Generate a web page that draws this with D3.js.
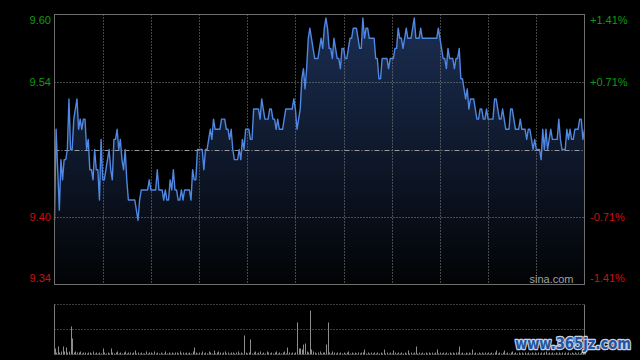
<!DOCTYPE html>
<html><head><meta charset="utf-8">
<script src="https://cdn.jsdelivr.net/npm/d3@7/dist/d3.min.js"></script>
<style>html,body{margin:0;padding:0;background:#000;}svg{display:block;}</style>
</head><body>
<svg id="c" width="640" height="360"></svg>
<script>
// ---- data ----
const prevClose = 9.47;
const maxPct = 0.0141;
const leftTickLabels = ["9.60", "9.54", "9.40", "9.34"];
const rightTickLabels = ["+1.41%", "+0.71%", "-0.71%", "-1.41%"];
const tickFractions = [1, 0.5, -0.5, -1];
const totalMinutes = 330;
const gridStepMinutes = 30;
const prices = [
9.40,9.49,9.45,9.41,9.46,9.44,9.46,9.46,9.47,9.52,
9.47,9.47,9.50,9.51,9.52,9.49,9.50,9.49,9.50,9.50,
9.47,9.48,9.45,9.45,9.44,9.47,9.45,9.45,9.42,9.48,
9.44,9.44,9.45,9.46,9.47,9.45,9.44,9.48,9.48,9.49,
9.47,9.48,9.46,9.45,9.47,9.44,9.42,9.42,9.42,9.42,
9.42,9.41,9.40,9.42,9.43,9.43,9.43,9.43,9.43,9.44,
9.43,9.43,9.43,9.43,9.45,9.43,9.43,9.43,9.42,9.43,
9.42,9.42,9.44,9.43,9.45,9.43,9.43,9.42,9.42,9.43,
9.42,9.43,9.43,9.43,9.43,9.42,9.45,9.44,9.44,9.47,
9.47,9.47,9.47,9.45,9.47,9.47,9.48,9.49,9.48,9.50,
9.49,9.49,9.49,9.49,9.50,9.50,9.50,9.49,9.49,9.48,
9.49,9.47,9.46,9.46,9.46,9.47,9.46,9.48,9.47,9.49,
9.49,9.49,9.48,9.48,9.51,9.51,9.51,9.51,9.50,9.52,
9.51,9.50,9.50,9.50,9.51,9.51,9.50,9.50,9.49,9.50,
9.49,9.49,9.49,9.50,9.51,9.51,9.51,9.51,9.51,9.52,
9.51,9.49,9.50,9.51,9.54,9.55,9.53,9.55,9.58,9.59,
9.58,9.57,9.56,9.56,9.56,9.57,9.58,9.57,9.59,9.60,
9.59,9.57,9.57,9.56,9.58,9.57,9.56,9.56,9.55,9.57,
9.57,9.56,9.56,9.57,9.58,9.58,9.59,9.59,9.59,9.58,
9.57,9.57,9.60,9.58,9.59,9.59,9.58,9.58,9.58,9.58,
9.56,9.56,9.54,9.54,9.56,9.56,9.56,9.56,9.55,9.56,
9.56,9.56,9.57,9.57,9.59,9.58,9.58,9.57,9.58,9.59,
9.58,9.58,9.58,9.59,9.60,9.58,9.58,9.58,9.59,9.58,
9.58,9.58,9.58,9.58,9.58,9.58,9.58,9.58,9.58,9.59,
9.58,9.57,9.56,9.56,9.55,9.57,9.56,9.56,9.56,9.55,
9.56,9.56,9.57,9.54,9.54,9.53,9.52,9.53,9.51,9.52,
9.52,9.52,9.51,9.50,9.50,9.51,9.51,9.50,9.50,9.51,
9.50,9.50,9.50,9.50,9.52,9.52,9.51,9.50,9.50,9.51,
9.50,9.49,9.49,9.49,9.51,9.51,9.50,9.49,9.49,9.49,
9.50,9.49,9.49,9.49,9.48,9.49,9.49,9.48,9.47,9.48,
9.47,9.47,9.47,9.46,9.49,9.47,9.49,9.47,9.48,9.49,
9.48,9.48,9.48,9.48,9.50,9.48,9.47,9.47,9.47,9.49,
9.48,9.49,9.48,9.48,9.49,9.49,9.49,9.50,9.50,9.48,
9.49
];
const volumes = [
6,2,8,2,3,8,3,7,2,3,
28,16,2,3,2,2,3,1,2,2,
1,2,2,1,3,1,2,1,2,1,
6,2,1,2,1,6,2,1,2,3,
1,2,1,2,3,1,2,2,1,2,
4,1,2,1,2,1,1,3,1,2,
2,1,3,1,2,1,2,1,1,3,
1,2,1,2,1,2,2,1,3,1,
2,1,2,1,2,1,3,7,2,1,
2,1,3,1,2,1,3,2,1,4,
1,2,3,2,1,2,3,1,2,1,
2,2,1,2,3,1,2,1,19,2,
1,2,15,1,2,3,1,2,3,1,
2,1,3,2,1,2,1,2,3,1,
2,1,2,3,1,7,2,1,2,1,
2,32,6,6,5,10,11,3,2,44,
5,3,2,1,2,3,1,2,2,10,
32,2,1,3,2,1,2,1,2,1,
2,1,2,3,1,2,1,2,1,2,
1,2,2,5,1,2,1,2,1,2,
1,2,1,2,1,5,1,2,1,2,
1,4,2,1,2,1,2,1,2,1,
4,1,2,1,2,8,1,2,1,2,
1,2,1,2,1,2,1,2,5,1,
2,1,2,1,2,1,2,1,2,1,
2,2,8,1,2,1,2,1,2,1,
5,1,2,1,2,1,2,1,2,1,
2,1,2,1,2,4,1,2,1,2,
4,1,2,1,2,3,1,2,1,2,
1,2,1,2,1,2,1,2,1,2,
1,2,1,2,1,2,3,1,2,1,
2,1,2,1,2,1,2,1,2,1,
2,1,2,1,2,1,2,1,2,3,2
];
const volMax = 50;
const sourceLabel = "sina.com";
const watermark = "www.365jz.com";

// ---- layout ----
const L = 54.5, R = 584.5, T = 14.5, B = 284.5;
const VT = 304.5, VB = 354.5;
const svg = d3.select("#c");
svg.append("rect").attr("width",640).attr("height",360).attr("fill","#000");

const delta = prevClose * maxPct;
const x = d3.scaleLinear().domain([0, totalMinutes]).range([L, R]);
const y = d3.scaleLinear().domain([prevClose - delta, prevClose + delta]).range([B, T]);
const yv = d3.scaleLinear().domain([0, volMax]).range([VB, VT]);

const defs = svg.append("defs");
const grad = defs.append("linearGradient").attr("id","ag")
  .attr("gradientUnits","userSpaceOnUse").attr("x1",0).attr("y1",T).attr("x2",0).attr("y2",B);
grad.append("stop").attr("offset","0%").attr("stop-color","#1b2e52");
grad.append("stop").attr("offset","55%").attr("stop-color","#0e1729");
grad.append("stop").attr("offset","100%").attr("stop-color","#020305");

// area
const area = d3.area().x((d,i)=>x(i)).y0(B).y1(d=>y(d));
svg.append("path").datum(prices).attr("d", area).attr("fill","url(#ag)");

// grid
const gridColor = "#8a8a8a";
const vTicks = d3.range(gridStepMinutes, totalMinutes, gridStepMinutes);
svg.append("g").selectAll("line").data(vTicks).join("line")
  .attr("x1",d=>Math.round(x(d))+0.5).attr("x2",d=>Math.round(x(d))+0.5)
  .attr("y1",T).attr("y2",B)
  .attr("stroke",gridColor).attr("stroke-width",1).attr("stroke-dasharray","1,2");
[0.5,-0.5].forEach(f=>{
  const yy = Math.round(y(prevClose + f*delta))+0.5;
  svg.append("line").attr("x1",L).attr("x2",R).attr("y1",yy).attr("y2",yy)
    .attr("stroke",gridColor).attr("stroke-dasharray","1,2");
});
// prev close line
const yb = Math.round(y(prevClose))+0.5;
svg.append("line").attr("x1",L).attr("x2",R).attr("y1",yb).attr("y2",yb)
  .attr("stroke","#9a9a9a").attr("stroke-dasharray","5,2,1,2");

// line
const line = d3.line().x((d,i)=>x(i)).y(d=>y(d));
svg.append("path").datum(prices).attr("d", line).attr("fill","none")
  .attr("stroke","#4f87e2").attr("stroke-width",1.4).attr("stroke-linejoin","round");

// frame
svg.append("rect").attr("x",L).attr("y",T).attr("width",R-L).attr("height",B-T)
  .attr("fill","none").attr("stroke","#6e6e6e").attr("stroke-width",1);

// labels
const font = "'Liberation Sans', Arial, sans-serif";
const offs = [5.5, 0, 0, -6.5];
tickFractions.forEach((f,i)=>{
  const yy = y(prevClose + f*delta) + offs[i];
  const col = f > 0 ? "#139a13" : "#cc1010";
  svg.append("text").attr("x",51).attr("y",yy).attr("text-anchor","end")
    .attr("dominant-baseline","central").attr("font-family",font).attr("font-size",11)
    .attr("fill",col).text(leftTickLabels[i]);
  svg.append("text").attr("x",590).attr("y",yy).attr("text-anchor","start")
    .attr("dominant-baseline","central").attr("font-family",font).attr("font-size",11)
    .attr("fill",col).text(rightTickLabels[i]);
});
svg.append("text").attr("x",573.5).attr("y",279).attr("text-anchor","end")
  .attr("dominant-baseline","central").attr("font-family",font).attr("font-size",11)
  .attr("fill","#a0a0a0").text(sourceLabel);

// volume panel
[VT, (VT+VB)/2, VB].forEach(v=>{
  svg.append("line").attr("x1",L).attr("x2",R).attr("y1",v).attr("y2",v)
    .attr("stroke","#7a7a7a").attr("stroke-dasharray","1,2");
});
svg.append("line").attr("x1",L).attr("x2",L).attr("y1",VT).attr("y2",VB).attr("stroke","#7a7a7a");
svg.append("line").attr("x1",R).attr("x2",R).attr("y1",VT).attr("y2",VB).attr("stroke","#7a7a7a");
svg.append("g").selectAll("rect").data(volumes).join("rect")
  .attr("x",(d,i)=>Math.round(x(i)))
  .attr("width",1)
  .attr("y",d=>yv(d)).attr("height",d=>VB-yv(d))
  .attr("fill","#8c8c8c");

// watermark
svg.append("text").attr("x",515).attr("y",349).attr("font-family","'DejaVu Sans', sans-serif")
  .attr("font-weight","bold").attr("font-size",15).attr("textLength",116)
  .attr("lengthAdjust","spacingAndGlyphs")
  .attr("fill","#24549e").attr("stroke","#c9d3e6").attr("stroke-width",2.5)
  .attr("paint-order","stroke").attr("stroke-linejoin","round").text(watermark);
</script>
</body></html>
